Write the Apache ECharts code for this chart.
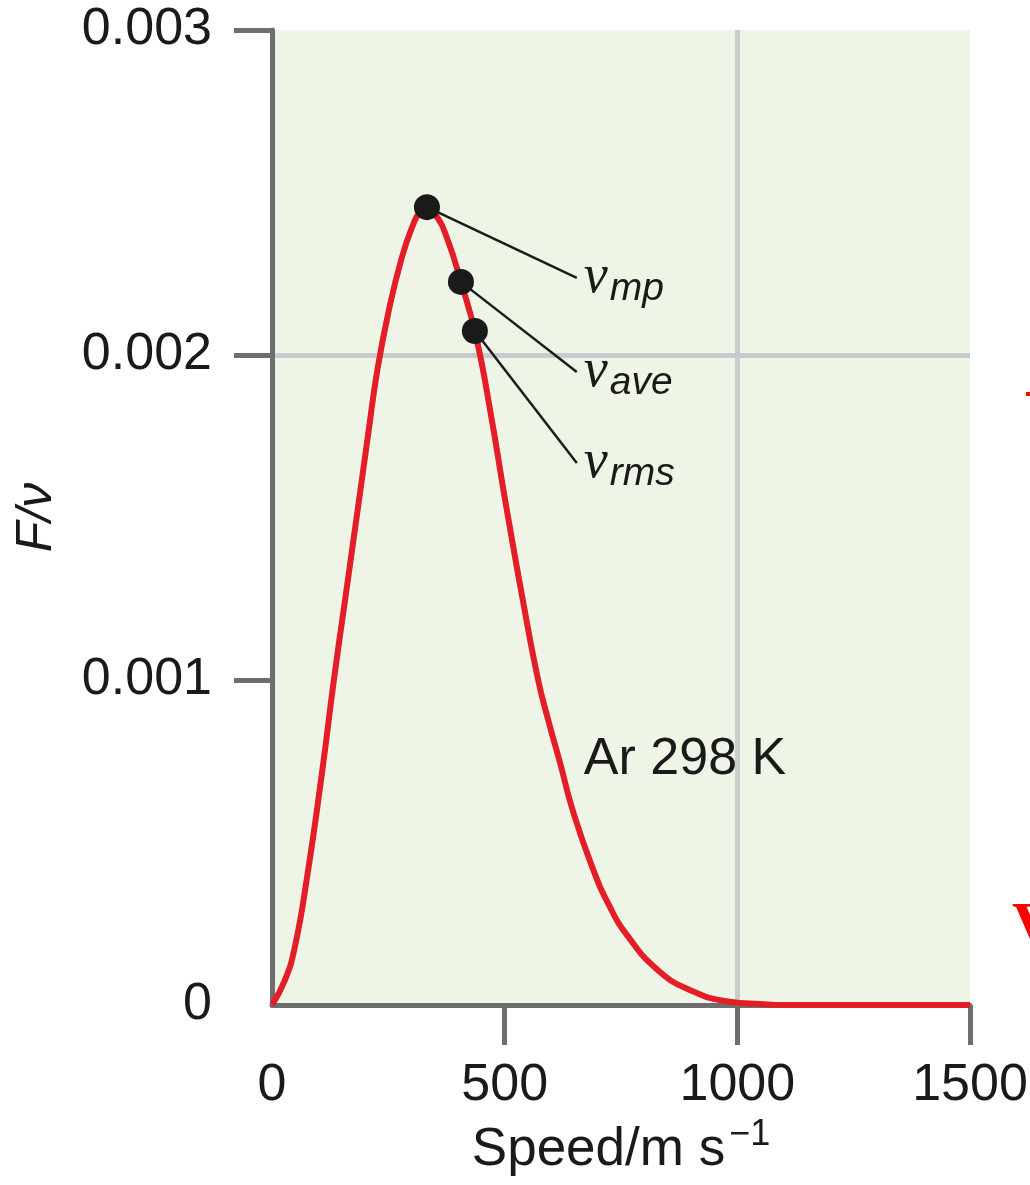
<!DOCTYPE html>
<html>
<head>
<meta charset="utf-8">
<script src="https://cdn.jsdelivr.net/npm/echarts@6/dist/echarts.min.js"></script>
<style>html,body{margin:0;padding:0;background:#fff;}#c{width:1030px;height:1185px;}</style>
</head>
<body>
<div id="c"></div>
<script>
// Speed (m/s) and F/v values
const speeds = [0, 28, 49, 75, 107, 133, 157, 193, 207, 226, 250, 279, 303, 318, 333, 352, 376, 406, 438, 470, 501, 539, 572, 593, 620, 645, 688, 725, 763, 827, 898, 984, 1050, 1100, 1200, 1300, 1400, 1500];
const fValues = [0, 0.000077, 0.000178, 0.00039, 0.00071, 0.001, 0.001246, 0.001615, 0.00176, 0.00195, 0.00213, 0.0023, 0.0024, 0.00244, 0.00245, 0.00243, 0.00236, 0.002225, 0.00206, 0.00182, 0.001554, 0.001246, 0.001, 0.00088, 0.00074, 0.000605, 0.000425, 0.000305, 0.000215, 0.00011, 0.000046, 0.00001, 0.000003, 0, 0, 0, 0, 0];

// characteristic speeds marked on the curve
const markerNames = ['mp', 'ave', 'rms'];
const markerSpeeds = [333, 406, 436];
const markerValues = [0.002455, 0.002225, 0.002074];
// label anchor points of the leader lines (data units)
const leaderEndSpeeds = [655, 655, 655];
const leaderEndValues = [0.002237, 0.001948, 0.001668];

const curveLabel = 'Ar 298 K';
const curveLabelPos = [668, 0.000754];

const xTicks = [0, 500, 1000, 1500];
const yTicks = [0, 0.001, 0.002, 0.003];

const chart = echarts.init(document.getElementById('c'));
const AX = '#6e6e6e';
const GRIDC = '#c9cccd';
const TXT = '#1a1a1a';
const font = '"Liberation Sans", Arial, sans-serif';
const clear = 'rgba(0,0,0,0)';

chart.setOption({
  animation: false,
  backgroundColor: '#ffffff',
  grid: { left: 272, top: 30, right: 60, bottom: 180, outerBoundsMode: 'none', containLabel: false,
    show: true, backgroundColor: '#eef5e7', borderWidth: 0 },
  xAxis: {
    type: 'value', min: 0, max: 1500, interval: 500,
    name: 'Speed/m s{sup|\u22121}',
    nameLocation: 'middle', nameGap: 108,
    nameTextStyle: { fontFamily: font, fontSize: 53, color: TXT,
      rich: { sup: { fontFamily: font, fontSize: 36, color: TXT, padding: [0, 0, 30, 4] } } },
    axisLine: { show: true, lineStyle: { color: AX, width: 5 } },
    axisTick: { show: true, length: 40, lineStyle: { color: AX, width: 5 }, customValues: xTicks.slice(1) },
    axisLabel: { fontFamily: font, fontSize: 52, color: TXT, margin: 55, customValues: xTicks,
      formatter: v => String(v) },
    splitLine: { show: true, showMinLine: false, showMaxLine: false, lineStyle: { color: GRIDC, width: 5 } }
  },
  yAxis: {
    type: 'value', min: 0, max: 0.003, interval: 0.001,
    name: 'F/\u03bd', nameLocation: 'middle', nameGap: 210, nameRotate: 90,
    nameTextStyle: { fontFamily: font, fontStyle: 'italic', fontSize: 50, color: TXT },
    axisLine: { show: true, lineStyle: { color: AX, width: 5 } },
    axisTick: { show: true, length: 38, lineStyle: { color: AX, width: 5 }, customValues: yTicks.slice(1) },
    axisLabel: { fontFamily: font, fontSize: 52, color: TXT, margin: 60, customValues: yTicks,
      formatter: v => v === 0 ? '0' : v.toFixed(3) },
    splitLine: { show: true, showMinLine: false, showMaxLine: false, lineStyle: { color: GRIDC, width: 5 } }
  },
  series: [
    {
      type: 'line', data: speeds.map((s, i) => [s, fValues[i]]),
      smooth: 0.5, showSymbol: false, z: 3,
      lineStyle: { color: '#e41e26', width: 6 }
    },
    {
      type: 'lines', coordinateSystem: 'cartesian2d', z: 4,
      lineStyle: { color: '#1c1c1c', width: 2.5, opacity: 1 },
      data: markerSpeeds.map((s, i) => ({ coords: [[s, markerValues[i]], [leaderEndSpeeds[i], leaderEndValues[i]]] }))
    },
    {
      type: 'scatter', z: 5, symbolSize: 26,
      itemStyle: { color: '#1a1a1a', opacity: 1 },
      data: markerSpeeds.map((s, i) => [s, markerValues[i]])
    },
    {
      type: 'scatter', z: 6, symbolSize: 2, itemStyle: { color: clear },
      data: leaderEndSpeeds.map((s, i) => ({ value: [s, leaderEndValues[i]], name: markerNames[i] })),
      label: {
        show: true, position: 'right', distance: 6, opacity: 1, color: TXT,
        formatter: p => '{nu|\u03bd}{sub|' + p.name + '}',
        rich: {
          nu: { fontFamily: '"Liberation Serif", "DejaVu Serif", serif', fontStyle: 'italic', fontSize: 54, color: TXT },
          sub: { fontFamily: font, fontStyle: 'italic', fontSize: 39, color: TXT, padding: [22, 0, 0, 2] }
        }
      }
    },
    {
      type: 'scatter', z: 6, symbolSize: 2, itemStyle: { color: clear },
      data: [{ value: curveLabelPos, name: curveLabel }],
      label: { show: true, position: 'right', distance: 0, opacity: 1, formatter: p => p.name,
        fontFamily: font, fontSize: 52, color: TXT }
    }
  ],
  graphic: [
    { type: 'text', left: 1012, top: 897, style: { text: 'V', font: 'bold 64px "Liberation Serif", serif', fill: '#ff0000' } },
    { type: 'rect', shape: { x: 1026, y: 392, width: 4, height: 4 }, style: { fill: '#ff0000' } }
  ]
});
</script>
</body>
</html>
